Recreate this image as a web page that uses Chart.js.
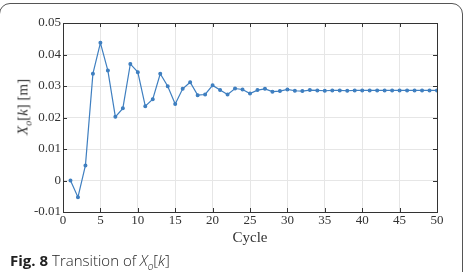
<!DOCTYPE html>
<html>
<head>
<meta charset="utf-8">
<script src="https://cdn.jsdelivr.net/npm/chart.js@4"></script>
<style>
  html, body { margin: 0; padding: 0; background: #fff; }
  #wrap { position: relative; width: 467px; height: 272px; overflow: hidden; }
  #card { position: absolute; left: -1px; top: 3px; width: 464px; height: 300px;
          border: 1.5px solid #555; border-radius: 11px; box-sizing: border-box; }
  #chartBox { position: absolute; left: 0; top: 0; width: 467px; height: 272px; }
  #ytitle { position: absolute; left: 24px; top: 107px; transform: translate(-50%, -50%) rotate(-90deg);
            font-family: "Liberation Serif", serif; font-size: 15px; color: #333; white-space: nowrap; }
  #ytitle sub { font-size: 10px; }
  #caption { position: absolute; left: 10px; top: 250px; font-family: "Open Sans", sans-serif;
             font-size: 15px; color: #222; white-space: nowrap; }
  #caption b { font-weight: 700; margin-right: 4px; }
  #caption span { font-weight: 300; }
</style>
</head>
<body>
<div id="wrap">
  <div id="card"></div>
  <div id="chartBox"><canvas id="line-chart" width="467" height="272"></canvas></div>
  <div id="ytitle"><i>X</i><sub><i>o</i></sub>[<i>k</i>] [m]</div>
  <div id="caption"><b>Fig. 8</b><span>Transition of <i>X</i><sub style="font-size:10px"><i>o</i></sub>[<i>k</i>]</span></div>
</div>
<script>
// cycle index k
const cycles = [];
for (let k = 1; k <= 50; k++) cycles.push(k);

// X_o[k] values
const xo = [
    0.0000, -0.0053, 0.0048, 0.0339, 0.0437, 0.0349, 0.0202, 0.0229, 0.0370, 0.0344,
    0.0236, 0.0258, 0.0339, 0.0299, 0.0243, 0.0291, 0.0312, 0.0271, 0.0273, 0.0302,
    0.0287, 0.0273, 0.0292, 0.0289, 0.0276, 0.0287, 0.0291, 0.0282, 0.0284, 0.0289,
    0.0285, 0.0284, 0.0287, 0.0286, 0.0285, 0.0286, 0.0286, 0.0285, 0.0286, 0.0286,
    0.0286, 0.0286, 0.0286, 0.0286, 0.0286, 0.0286, 0.0286, 0.0286, 0.0286, 0.0286
];

const xTicks = [0, 5, 10, 15, 20, 25, 30, 35, 40, 45, 50];
const yTicks = ['-0.01', '0', '0.01', '0.02', '0.03', '0.04', '0.05'];

// box around the plot + inward ticks on all sides
const frame = {
    id: 'frame',
    afterDraw(chart) {
        const { ctx, chartArea: a, scales: { x, y } } = chart;
        ctx.save();
        ctx.strokeStyle = '#333';
        ctx.lineWidth = 1;
        ctx.strokeRect(a.left + 0.5, a.top + 0.5, a.right - a.left, a.bottom - a.top);
        ctx.beginPath();
        xTicks.forEach(v => {
            const px = Math.round(x.getPixelForValue(v)) + 0.5;
            ctx.moveTo(px, a.bottom); ctx.lineTo(px, a.bottom - 4);
            ctx.moveTo(px, a.top); ctx.lineTo(px, a.top + 4);
        });
        yTicks.forEach(v => {
            const py = Math.round(y.getPixelForValue(Number(v))) + 0.5;
            ctx.moveTo(a.left, py); ctx.lineTo(a.left + 4, py);
            ctx.moveTo(a.right, py); ctx.lineTo(a.right - 4, py);
        });
        ctx.stroke();
        ctx.restore();
    }
};

new Chart(document.getElementById('line-chart'), {
    type: 'line',
    data: {
        labels: cycles,
        datasets: [{
            data: cycles.map((k, i) => ({ x: k, y: xo[i] })),
            borderColor: '#3f7fc0',
            backgroundColor: '#3f7fc0',
            borderWidth: 1.2,
            pointRadius: 1.4,
            pointHoverRadius: 1.4,
            tension: 0,
            fill: false
        }]
    },
    options: {
        responsive: false,
        animation: false,
        layout: { padding: { left: 0, top: 23, right: 30, bottom: 25 } },
        scales: {
            x: {
                type: 'linear',
                min: 0,
                max: 50,
                afterBuildTicks: s => { s.ticks = xTicks.map(v => ({ value: v })); },
                afterFit: s => { s.height = 35; },
                grid: { color: '#e6e6e6', drawTicks: false },
                border: { display: false },
                ticks: {
                    padding: 1,
                    color: '#333',
                    maxRotation: 0,
                    autoSkip: false,
                    font: { family: 'Liberation Serif', size: 13 },
                    callback: v => String(v)
                },
                title: {
                    display: true,
                    text: 'Cycle',
                    color: '#333',
                    font: { family: 'Liberation Serif', size: 15 },
                    padding: { top: 2, bottom: 0 }
                }
            },
            y: {
                min: -0.01,
                max: 0.05,
                afterBuildTicks: s => { s.ticks = yTicks.map(v => ({ value: Number(v) })); },
                afterFit: s => { s.width = 63; },
                grid: { color: '#e6e6e6', drawTicks: false },
                border: { display: false },
                ticks: {
                    padding: 2,
                    color: '#333',
                    autoSkip: false,
                    font: { family: 'Liberation Serif', size: 13 },
                    callback: v => yTicks.find(t => Math.abs(Number(t) - v) < 1e-9)
                }
            }
        },
        plugins: {
            legend: { display: false },
            tooltip: { enabled: false }
        }
    },
    plugins: [frame]
});
</script>
</body>
</html>
